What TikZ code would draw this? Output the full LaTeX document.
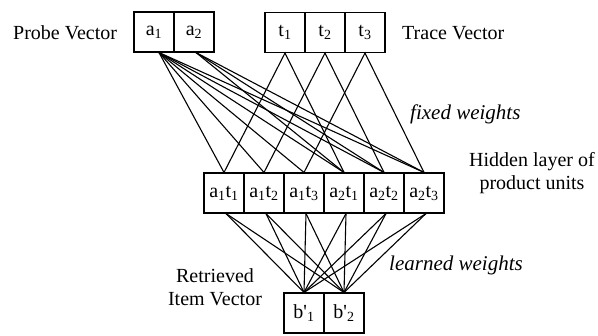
\documentclass[tikz,border=0pt]{standalone}
\usepackage{fontspec}
\setmainfont{Liberation Serif}
\begin{document}
\begin{tikzpicture}[x=1pt,y=-1pt,
  cell/.style={draw, line width=1.1pt, minimum width=40pt, minimum height=40pt, inner sep=0pt, font=\fontsize{20}{24}\selectfont},
  lbl/.style={inner sep=0pt, font=\fontsize{20}{23}\selectfont},
  ilbl/.style={inner sep=0pt, font=\fontsize{21}{24}\selectfont\itshape},
  wire/.style={line width=1.1pt}]
\useasboundingbox (0,0) rectangle (598,336);
% probe vector
\node[cell] (a1) at (154,32) {a\textsubscript{1}};
\node[cell] (a2) at (194,32) {a\textsubscript{2}};
% trace vector
\node[cell] (t1) at (285,32.5) {t\textsubscript{1}};
\node[cell] (t2) at (325,32.5) {t\textsubscript{2}};
\node[cell] (t3) at (365,32.5) {t\textsubscript{3}};
% hidden
\node[cell] (h11) at (224,193) {a\textsubscript{1}t\textsubscript{1}};
\node[cell] (h12) at (264,193) {a\textsubscript{1}t\textsubscript{2}};
\node[cell] (h13) at (304,193) {a\textsubscript{1}t\textsubscript{3}};
\node[cell] (h21) at (344,193) {a\textsubscript{2}t\textsubscript{1}};
\node[cell] (h22) at (384,193) {a\textsubscript{2}t\textsubscript{2}};
\node[cell] (h23) at (424,193) {a\textsubscript{2}t\textsubscript{3}};
% output
\node[cell] (b1) at (304,313) {b\textquotesingle\textsubscript{1}};
\node[cell] (b2) at (344,313) {b\textquotesingle\textsubscript{2}};
% anchors
\coordinate (a1s) at ([xshift=5pt]a1.south);
\coordinate (a2s) at ([xshift=2pt]a2.south);
% fixed weights
\foreach \h in {h11,h12,h13,h21,h22,h23} \draw[wire] (a1s) -- (\h.north);
\foreach \h in {h21,h22,h23} \draw[wire] (a2s) -- (\h.north);
\draw[wire] (t1.south) -- (h11.north);
\draw[wire] (t1.south) -- (h21.north);
\draw[wire] (t2.south) -- (h12.north);
\draw[wire] (t2.south) -- (h22.north);
\draw[wire] (t3.south) -- (h13.north);
\draw[wire] (t3.south) -- (h23.north);
% learned weights
\foreach \h in {h11,h12,h13,h21,h22,h23} {
  \draw[wire] ([xshift=2pt]\h.south) -- (b1.north);
  \draw[wire] ([xshift=2pt]\h.south) -- (b2.north);
}
% labels
\node[lbl, anchor=base west] (lp) at (13,40) {Probe Vector};
\node[lbl, anchor=base west] (lt) at (402,40) {Trace Vector};
\node[ilbl, anchor=base west] (lf) at (410,120) {fixed weights};
\node[lbl, anchor=base, align=center] (lh) at (532,190) {Hidden layer of\\product units};
\node[ilbl, anchor=base west] (ll) at (389,271) {learned weights};
\node[lbl, anchor=base, align=center] (lr) at (215,306) {Retrieved\\Item Vector};
\end{tikzpicture}
\end{document}
